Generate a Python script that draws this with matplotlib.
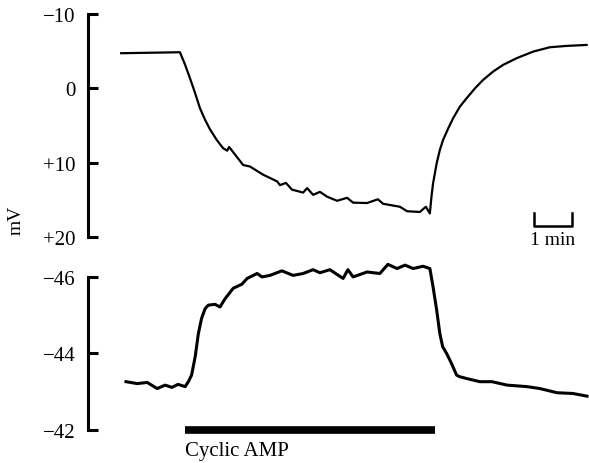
import matplotlib
matplotlib.use("Agg")
import matplotlib.pyplot as plt

plt.rcParams['font.family'] = ['Liberation Serif', 'DejaVu Serif']

# time in minutes, potential in mV
t_top = [0.83, 2.3, 2.43, 2.55, 2.68, 2.8, 2.93, 3.05, 3.22, 3.38, 3.48, 3.53,
         3.88, 4.05, 4.38, 4.73, 4.8, 4.95, 5.1, 5.38, 5.48, 5.63, 5.8, 5.98,
         6.23, 6.48, 6.63, 6.98, 7.25, 7.38, 7.8, 7.98, 8.3, 8.45, 8.55, 8.59,
         8.63, 8.72, 8.8, 8.88, 9.01, 9.13, 9.3, 9.47, 9.68, 9.88, 10.13, 10.38,
         10.72, 11.13, 11.55, 11.97, 12.47]
v_top = [-4.7, -4.83, -3.13, -1.35, 0.67, 2.68, 4.26, 5.5, 6.94, 8.05, 8.38, 7.88,
         10.3, 10.5, 11.6, 12.5, 13.0, 12.7, 13.6, 14.0, 13.4, 14.3, 13.9, 14.55,
         15.1, 14.7, 15.35, 15.4, 14.9, 15.5, 15.9, 16.5, 16.6, 15.9, 16.8, 14.55,
         12.76, 10.07, 8.28, 6.94, 5.38, 4.04, 2.47, 1.34, 0.0, -1.11, -2.23, -3.13,
         -4.03, -4.91, -5.5, -5.68, -5.81]

t_bot = [0.95, 1.23, 1.48, 1.73, 1.93, 2.1, 2.25, 2.43, 2.51, 2.59, 2.68, 2.76,
         2.84, 2.93, 3.01, 3.18, 3.3, 3.43, 3.63, 3.85, 3.98, 4.23, 4.35, 4.55,
         4.85, 5.13, 5.38, 5.63, 5.8, 6.05, 6.38, 6.5, 6.63, 6.98, 7.3, 7.5,
         7.73, 7.93, 8.13, 8.38, 8.55, 8.63, 8.72, 8.8, 8.87, 8.97, 9.09, 9.22,
         9.3, 9.48, 9.8, 10.1, 10.48, 10.98, 11.3, 11.73, 12.13, 12.48]
v_bot = [-43.26, -43.21, -43.24, -43.08, -43.17, -43.11, -43.19, -43.13, -43.26, -43.43, -43.91, -44.52,
         -44.92, -45.18, -45.27, -45.29, -45.22, -45.44, -45.71, -45.82, -45.97, -46.1, -46.01, -46.05,
         -46.17, -46.05, -46.1, -46.2, -46.12, -46.2, -45.97, -46.2, -46.01, -46.14, -46.1, -46.34,
         -46.23, -46.32, -46.23, -46.29, -46.23, -45.75, -45.14, -44.52, -44.18, -44.0, -43.74, -43.43,
         -43.39, -43.34, -43.26, -43.26, -43.17, -43.13, -43.08, -42.97, -42.95, -42.88]

top_ticks = [-10, 0, 10, 20]
top_labels = ['\u221210', '0', '+10', '+20']
bot_ticks = [-46, -44, -42]
bot_labels = ['\u221246', '\u221244', '\u221242']

camp_on, camp_off = 2.43, 8.68
xmax = 12.53

fig = plt.figure(figsize=(5.89, 4.64), dpi=100)
ax1 = fig.add_axes([0.1494, 0.4864, 0.8506, 0.4819])
ax2 = fig.add_axes([0.1494, 0.0718, 0.8506, 0.3284])

for ax in (ax1, ax2):
    for s in ('top', 'right', 'bottom'):
        ax.spines[s].set_visible(False)
    ax.spines['left'].set_linewidth(2.2)
    ax.set_xticks([])
    ax.set_xlim(0, xmax)
    ax.tick_params(axis='y', direction='in', length=7, width=2.2, pad=9, labelsize=15)
    ax.patch.set_visible(False)

ax1.plot(t_top, v_top, color='black', lw=1.6, clip_on=False)
ax1.set_ylim(20, -10)
ax1.set_yticks(top_ticks)
ax1.set_yticklabels(top_labels)

ax2.plot(t_bot, v_bot, color='black', lw=2.2, clip_on=False)
ax2.set_ylim(-42, -46)
ax2.set_yticks(bot_ticks)
ax2.set_yticklabels(bot_labels)

# cyclic AMP bar
ax2.plot([camp_on, camp_off], [-41.98, -41.98], color='black', lw=5.5,
         solid_capstyle='butt', clip_on=False)
ax2.text(camp_on, -41.7, 'Cyclic AMP', ha='left', va='top', fontsize=15)

# 1 min scale bar
ax1.plot([11.15, 11.15, 12.1, 12.1], [16.74, 18.5, 18.5, 16.74], color='black',
         lw=1.8, clip_on=False)
ax1.text(11.63, 19.2, '1 min', ha='center', va='top', fontsize=14)

fig.text(0.027, 0.526, 'mV', rotation=90, ha='center', va='center', fontsize=14)

fig.savefig('out.png', dpi=100)
